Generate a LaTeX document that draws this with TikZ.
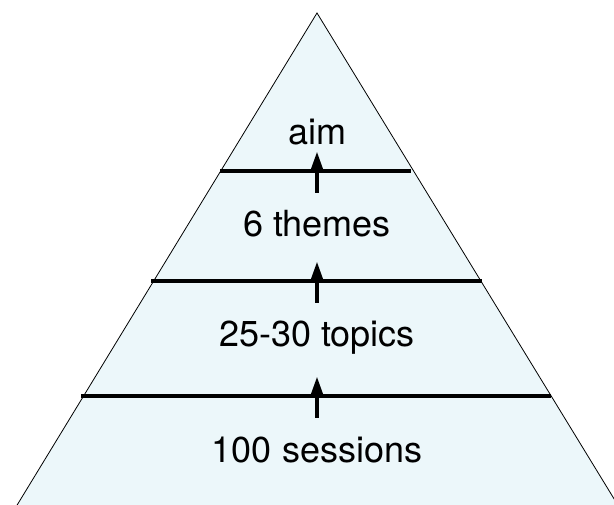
\documentclass[tikz,border=0pt]{standalone}
\usepackage{fontspec}
\setmainfont{TeX Gyre Heros}
\usetikzlibrary{arrows.meta}
\definecolor{pyrfill}{RGB}{236,247,250}

\begin{document}
\begin{tikzpicture}[x=1pt,y=-1pt]
  \tikzstyle{every node}=[font=\fontsize{36}{42}\selectfont, anchor=base, inner sep=0pt]
  \tikzstyle{level}=[line width=3.5pt]
  \tikzstyle{up}=[line width=4.5pt, -{Triangle[width=12pt,length=20pt]}]
  \useasboundingbox (0,0) rectangle (614,505);
  \clip (0,0) rectangle (614,505);
  \coordinate (apex) at (317,13);
  \coordinate (baseL) at (8,520);
  \coordinate (baseR) at (627,520);
  \filldraw[fill=pyrfill, draw=black, line width=0.8pt] (apex) -- (baseR) -- (baseL) -- cycle;
  % levels
  \coordinate (l1a) at (220,171); \coordinate (l1b) at (411,171);
  \coordinate (l2a) at (151,281); \coordinate (l2b) at (482,281);
  \coordinate (l3a) at (81,396);  \coordinate (l3b) at (551,396);
  \draw[level] (l1a) -- (l1b);
  \draw[level] (l2a) -- (l2b);
  \draw[level] (l3a) -- (l3b);
  % labels
  \node (aim) at (317,145) {aim};
  \node (themes) at (317,237) {6 themes};
  \node (topics) at (317,347) {25-30 topics};
  \node (sessions) at (317,463) {100 sessions};
  % arrows
  \coordinate (a1s) at (317,193); \coordinate (a1e) at (317,151);
  \coordinate (a2s) at (317,303); \coordinate (a2e) at (317,261);
  \coordinate (a3s) at (317,418); \coordinate (a3e) at (317,376);
  \draw[up] (a1s) -- (a1e);
  \draw[up] (a2s) -- (a2e);
  \draw[up] (a3s) -- (a3e);
\end{tikzpicture}
\end{document}
